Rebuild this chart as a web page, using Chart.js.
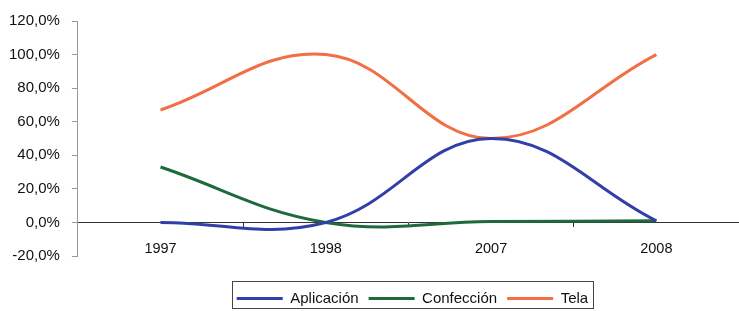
<!DOCTYPE html>
<html><head><meta charset="utf-8">
<script src="https://cdn.jsdelivr.net/npm/chart.js@4/dist/chart.umd.min.js"></script>
<style>html,body{margin:0;padding:0;background:#fff}#wrap{width:739px;height:311px;position:relative}</style>
</head><body><div id="wrap"><canvas id="c"></canvas></div>
<script>
const categories = ['1997', '1998', '2007', '2008'];
const aplicacion = [0, 0, 50, 1];
const confeccion = [33, 0, 0.5, 1];
const tela = [67, 100, 50, 100];
const yTicks = [-20, 0, 20, 40, 60, 80, 100, 120];

const FONT = "'Liberation Sans', Arial, sans-serif";

const legendPlace = {
  id: 'legendPlace',
  afterLayout(chart) {
    const lg = chart.legend, ca = chart.chartArea;
    const shiftX = 4, shiftY = 25;
    lg.left = ca.left + shiftX; lg.right = ca.right + shiftX;
    lg.top += shiftY; lg.bottom += shiftY;
  },
  afterDraw(chart) {
    const boxes = chart.legend.legendHitBoxes;
    if (!boxes || !boxes.length) return;
    let l = Infinity, r = -Infinity, t = Infinity, b = -Infinity;
    boxes.forEach(h => { l = Math.min(l, h.left); r = Math.max(r, h.left + h.width); t = Math.min(t, h.top); b = Math.max(b, h.top + h.height); });
    const cy = Math.round((t + b) / 2);
    const ctx = chart.ctx;
    ctx.save();
    ctx.strokeStyle = '#444';
    ctx.lineWidth = 1;
    ctx.strokeRect(Math.round(l - 5) + 0.5, cy - 18 + 0.5, Math.round(r - l + 10), 27);
    ctx.restore();
  }
};

function ds(label, data, color) {
  return { label, data, borderColor: color, backgroundColor: color, borderWidth: 3,
    pointRadius: 0, pointBorderColor: color, pointBackgroundColor: color, pointBorderWidth: 3 };
}

new Chart(document.getElementById('c'), {
  type: 'line',
  data: {
    labels: categories,
    datasets: [
      ds('Aplicación', aplicacion, '#3040a8'),
      ds('Confección', confeccion, '#1f6a3c'),
      ds('Tela', tela, '#f26e45')
    ]
  },
  options: {
    responsive: true,
    maintainAspectRatio: false,
    animation: false,
    elements: { line: { tension: 0.4 } },
    layout: { padding: { top: 14, right: 0, left: -3, bottom: 20 } },
    plugins: {
      legend: {
        position: 'bottom',
        labels: {
          usePointStyle: true, pointStyle: 'line', pointStyleWidth: 46,
          font: { family: FONT, size: 15 }, color: '#111', padding: 10, boxHeight: 15
        }
      },
      tooltip: { enabled: false }
    },
    scales: {
      x: {
        position: { y: 0 },
        offset: true,
        border: { color: '#333', width: 1 },
        grid: { drawOnChartArea: false, offset: true, tickLength: 4, color: '#333' },
        ticks: { font: { family: FONT, size: 14.5 }, color: '#111', padding: 14 }
      },
      y: {
        min: -20, max: 120,
        afterBuildTicks: s => { s.ticks = yTicks.map(v => ({ value: v })); },
        border: { color: '#999', width: 1 },
        grid: { drawOnChartArea: false, tickLength: 6, color: '#999' },
        ticks: { font: { family: FONT, size: 15 }, color: '#111', padding: 12,
          callback: v => v.toFixed(1).replace('.', ',') + '%' }
      }
    }
  },
  plugins: [legendPlace]
});
</script></body></html>
